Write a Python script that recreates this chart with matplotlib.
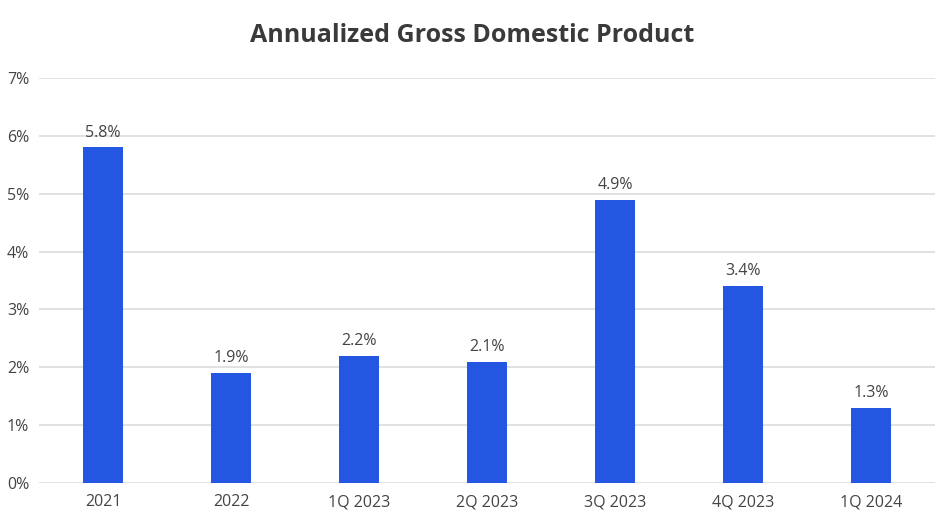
import matplotlib
matplotlib.use('Agg')
import matplotlib.pyplot as plt
from matplotlib.ticker import FuncFormatter

periods = ['2021', '2022', '1Q 2023', '2Q 2023', '3Q 2023', '4Q 2023', '1Q 2024']
gdp = [5.8, 1.9, 2.2, 2.1, 4.9, 3.4, 1.3]

plt.rcParams['font.family'] = ['Open Sans', 'DejaVu Sans']

fig = plt.figure(figsize=(9.4, 5.28), dpi=100)
ax = fig.add_axes([0.0415, 0.0852, 0.9535, 0.767])

x = range(len(periods))
bars = ax.bar(x, gdp, width=0.31, color='#2357e2', zorder=3)
for b, v in zip(bars, gdp):
    ax.text(b.get_x() + b.get_width() / 2, v + 0.12, f'{v:.1f}%',
            ha='center', va='bottom', fontsize=11.5, color='#444444')

ax.set_xlim(-0.5, len(periods) - 0.5)
ax.set_ylim(0, 7)
ax.set_yticks(range(0, 8))
ax.yaxis.set_major_formatter(FuncFormatter(lambda v, p: f'{int(v)}%'))
ax.set_xticks(list(x))
ax.set_xticklabels(periods)
ax.tick_params(length=0, labelsize=11.5, labelcolor='#444444')
ax.tick_params(axis='y', pad=7)
ax.tick_params(axis='x', pad=8)
ax.grid(axis='y', color='#dcdcdc', linewidth=1.2, zorder=0)
for s in ax.spines.values():
    s.set_visible(False)

fig.text(0.502, 0.932, 'Annualized Gross Domestic Product', ha='center',
         va='center', fontsize=18, fontweight='bold', color='#3a3a3c')

fig.savefig('out.png', dpi=100)
